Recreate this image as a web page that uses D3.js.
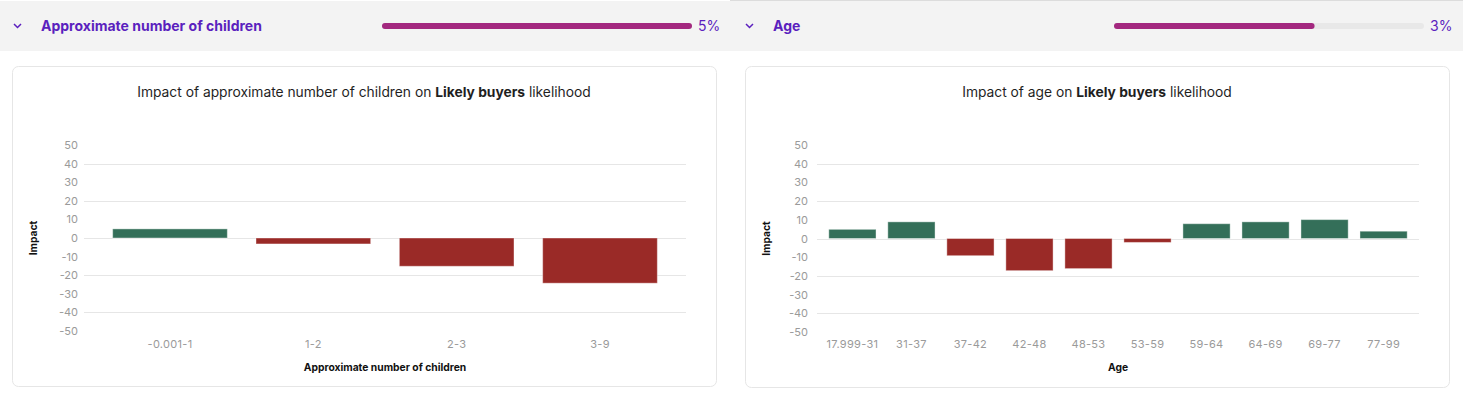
<!DOCTYPE html>
<html>
<head>
<meta charset="utf-8">
<script src="https://cdn.jsdelivr.net/npm/d3@7"></script>
<style>
  body { margin: 0; background: #fff; font-family: Inter, "Noto Sans", sans-serif; }
  svg { display: block; }
</style>
</head>
<body>
<svg id="chart" width="1463" height="397"></svg>
<script>
// data
var childrenCategories = ["-0.001-1", "1-2", "2-3", "3-9"];
var childrenImpact = [4.9, -3.2, -15.2, -24.3];

var ageCategories = ["17.999-31", "31-37", "37-42", "42-48", "48-53", "53-59", "59-64", "64-69", "69-77", "77-99"];
var ageImpact = [4.9, 8.9, -9.2, -17.2, -16.1, -2.1, 7.9, 8.9, 10.1, 3.9];

var featureNames = ["Approximate number of children", "Age"];
var featureImportance = [5.1, 3.3];

var yTicks = [50, 40, 30, 20, 10, 0, -10, -20, -30, -40, -50];
var gridTicks = [40, 20, 0, -20, -40];

var purple = "#5b1fbe",
    magenta = "#a3287f",
    green = "#346f59",
    red = "#9a2a27";

var svg = d3.select("#chart");

var maxImportance = d3.max(featureImportance);

//////////// HEADERS ////////////
function drawHeader(x0, bgX, w, idx, topBorder) {
  var g = svg.append("g").attr("transform", "translate(" + x0 + ",0)");
  g.append("rect").attr("x", bgX).attr("y", topBorder ? 0 : 1).attr("width", w).attr("height", topBorder ? 51 : 50)
    .attr("fill", "#f3f3f3");
  if (topBorder) {
    g.append("line").attr("x1", bgX).attr("x2", bgX + w).attr("y1", 0.5).attr("y2", 0.5)
      .attr("stroke", "#dcdcdc");
  }
  // chevron
  g.append("path").attr("d", "M14,24 L17.5,27.5 L21,24")
    .attr("fill", "none").attr("stroke", purple).attr("stroke-width", 1.5);
  g.append("text").attr("x", 41).attr("y", 31)
    .attr("font-size", 14).attr("font-weight", 700).attr("fill", purple)
    .text(featureNames[idx]);

  var bar = d3.scaleLinear().domain([0, maxImportance]).range([0, 310]);
  g.append("rect").attr("x", 382).attr("y", 23).attr("width", 310).attr("height", 6).attr("rx", 3)
    .attr("fill", "#e8e8e8");
  g.append("rect").attr("x", 382).attr("y", 23).attr("width", bar(featureImportance[idx])).attr("height", 6).attr("rx", 3)
    .attr("fill", magenta);
  g.append("text").attr("x", 698).attr("y", 31)
    .attr("font-size", 14).attr("fill", purple)
    .text(Math.round(featureImportance[idx]) + "%");
}

drawHeader(0, 0, 730, 0, false);
drawHeader(732, -2, 733, 1, true);

//////////// CHARTS ////////////
function drawCard(opts) {
  var g = svg.append("g");

  g.append("rect").attr("x", opts.cardX + 0.5).attr("y", 66.5).attr("width", 704).attr("height", opts.cardH)
    .attr("rx", 6).attr("fill", "#fff").attr("stroke", "#e6e6e6");

  // title with bold target name
  var t = g.append("text").attr("x", opts.cardX + 352).attr("y", 97)
    .attr("text-anchor", "middle").attr("font-size", 13.8).attr("fill", "#1f1f1f");
  t.append("tspan").text("Impact of " + opts.feature + " on ");
  t.append("tspan").attr("font-weight", 700).text("Likely buyers");
  t.append("tspan").text(" likelihood");

  var x = d3.scaleBand().domain(opts.categories).range([opts.left, opts.right]).padding(0.2);
  var y = d3.scaleLinear().domain([-50, 50]).range([opts.bottom, opts.top]);

  // grid
  g.append("g").selectAll("line").data(gridTicks).enter().append("line")
    .attr("x1", opts.left).attr("x2", opts.right)
    .attr("y1", function(d) { return Math.round(y(d)) + 0.5; })
    .attr("y2", function(d) { return Math.round(y(d)) + 0.5; })
    .attr("stroke", "#e6e6e6");

  // y tick labels
  g.append("g").selectAll("text").data(yTicks).enter().append("text")
    .attr("x", opts.left - opts.tickGap)
    .attr("y", function(d) { return y(d) + 4; })
    .attr("text-anchor", "end").attr("font-size", 11).attr("fill", "#9a9a9a")
    .text(function(d) { return d; });

  // bars
  g.append("g").selectAll("rect").data(opts.values).enter().append("rect")
    .attr("x", function(d, i) { return x(opts.categories[i]); })
    .attr("width", x.bandwidth())
    .attr("y", function(d) { return y(Math.max(0, d)); })
    .attr("height", function(d) { return Math.abs(y(d) - y(0)); })
    .attr("fill", function(d) { return d >= 0 ? green : red; })
    .attr("stroke", "#fff").attr("stroke-opacity", 0.4);

  // x labels
  g.append("g").selectAll("text").data(opts.categories).enter().append("text")
    .attr("x", function(d) { return x(d) + x.bandwidth() / 2; })
    .attr("y", 348)
    .attr("text-anchor", "middle").attr("font-size", 11).attr("fill", "#9a9a9a")
    .attr("letter-spacing", 0.3)
    .text(function(d) { return d; });

  // axis titles
  g.append("text").attr("x", (opts.left + opts.right) / 2).attr("y", 371)
    .attr("text-anchor", "middle").attr("font-size", 10.3).attr("font-weight", 700).attr("fill", "#111")
    .text(opts.xTitle);
  g.append("text")
    .attr("transform", "translate(" + opts.yTitleX + "," + y(0) + ") rotate(-90)")
    .attr("text-anchor", "middle").attr("font-size", 10.3).attr("font-weight", 700).attr("fill", "#111")
    .text("Impact");
}

drawCard({
  cardX: 12, cardH: 320, feature: "approximate number of children",
  categories: childrenCategories, values: childrenImpact,
  left: 84, right: 686, top: 145, bottom: 331, tickGap: 6, yTitleX: 37,
  xTitle: "Approximate number of children"
});

drawCard({
  cardX: 745, cardH: 321, feature: "age",
  categories: ageCategories, values: ageImpact,
  left: 817, right: 1419, top: 145, bottom: 332, tickGap: 9, yTitleX: 770,
  xTitle: "Age"
});
</script>
</body>
</html>
